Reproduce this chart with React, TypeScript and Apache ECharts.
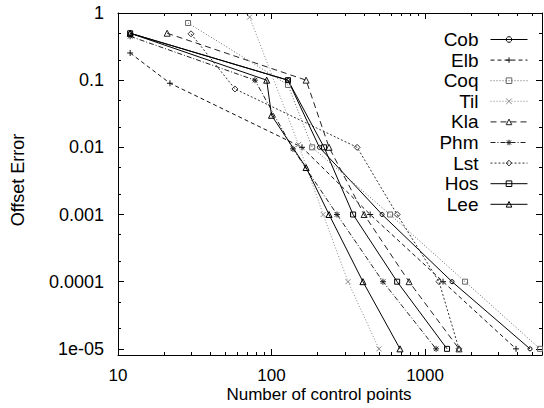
import React, { useEffect, useRef } from 'react';
import * as echarts from 'echarts';

// ---- data ----
const seriesNames = ['Cob', 'Elb', 'Coq', 'Til', 'Kla', 'Phm', 'Lst', 'Hos', 'Lee'];

const cobX = [12, 128, 205, 525, 1499, 4830];
const cobY = [0.5, 0.1, 0.01, 0.001, 0.0001, 0.00001];
const elbX = [12, 21.8, 158, 439, 1310, 3916];
const elbY = [0.254, 0.09, 0.01, 0.001, 0.0001, 0.00001];
const coqX = [28.6, 128, 184, 592, 1823, 5610];
const coqY = [0.71, 0.085, 0.01, 0.001, 0.0001, 0.00001];
const tilX = [72, 150, 217, 315, 501];
const tilY = [0.87, 0.011, 0.001, 0.0001, 0.00001];
const klaX = [20.9, 168, 237, 401, 787, 1664];
const klaY = [0.5, 0.1, 0.01, 0.001, 0.0001, 0.00001];
const phmX = [12, 78, 138, 267, 532, 1180];
const phmY = [0.45, 0.1, 0.0095, 0.001, 0.0001, 0.00001];
const lstX = [29.9, 57.8, 361, 658, 1233, 1664];
const lstY = [0.49, 0.074, 0.01, 0.001, 0.0001, 0.00001];
const hosX = [12, 128, 220, 340, 658, 1391];
const hosY = [0.5, 0.1, 0.01, 0.001, 0.0001, 0.00001];
const leeX = [12, 93, 100, 168, 237, 394, 687];
const leeY = [0.5, 0.1, 0.03, 0.005, 0.001, 0.0001, 0.00001];

const xTicks = [10, 100, 1000];
const xTickLabels = ['10', '100', '1000'];
const xMinorTicks = [20, 30, 40, 50, 60, 70, 80, 90, 200, 300, 400, 500, 600, 700, 800, 900, 2000, 3000, 4000, 5000];
const yTicks = [1, 0.1, 0.01, 0.001, 0.0001, 0.00001];
const yTickLabels = ['1', '0.1', '0.01', '0.001', '0.0001', '1e-05'];
const yMinorTicks = [0.5, 0.2, 0.05, 0.02, 0.005, 0.002, 0.0005, 0.0002, 0.00005, 0.00002];

const xMin = 10;
const xMax = 5780;
const yMin = 0.0000081;
const yMax = 1;

const FONT = "'Liberation Sans', Arial, Helvetica, sans-serif";

const P_PLUS = 'path://M0,4L8,4M4,0L4,8';
const P_CROSS = 'path://M0,0L8,8M8,0L0,8';
const P_STAR = 'path://M4,0L4,8M0,4L8,4M1,1L7,7M7,1L1,7';

const styles: Record<string, any> = {
  Cob: { x: cobX, y: cobY, symbol: 'circle', size: 4, dash: 'solid', color: '#000' },
  Elb: { x: elbX, y: elbY, symbol: P_PLUS, size: 6, dash: [4, 3], color: '#111' },
  Coq: { x: coqX, y: coqY, symbol: 'rect', size: 5, dash: [1, 2], color: '#666' },
  Til: { x: tilX, y: tilY, symbol: P_CROSS, size: 5, dash: [1, 2], color: '#888' },
  Kla: { x: klaX, y: klaY, symbol: 'triangle', size: 6, dash: [6, 4], color: '#222' },
  Phm: { x: phmX, y: phmY, symbol: P_STAR, size: 6, dash: [5, 2, 1, 2], color: '#222' },
  Lst: { x: lstX, y: lstY, symbol: 'diamond', size: 6, dash: [2, 2], color: '#333' },
  Hos: { x: hosX, y: hosY, symbol: 'rect', size: 5, dash: 'solid', color: '#000' },
  Lee: { x: leeX, y: leeY, symbol: 'triangle', size: 6, dash: 'solid', color: '#000' },
};

function labelFor(v: number, ticks: number[], labels: string[]) {
  const i = ticks.findIndex((t) => Math.abs(Math.log10(t) - Math.log10(v)) < 1e-6);
  return i >= 0 ? labels[i] : '';
}

export default function App() {
  const ref = useRef<HTMLDivElement>(null);

  useEffect(() => {
    if (!ref.current) return;
    const chart = echarts.init(ref.current, undefined, { renderer: 'svg' });

    const axisLine = { show: true, onZero: false, lineStyle: { color: '#000', width: 1 } };
    const xBase = { type: 'log', logBase: 10, min: xMin, max: xMax, splitLine: { show: false } };
    const yBase = { type: 'log', logBase: 10, min: yMin, max: yMax, splitLine: { show: false } };
    const majorTick = (vals: number[]) => ({
      show: true, inside: true, length: 6, customValues: vals, lineStyle: { color: '#000', width: 1 },
    });
    const minorTick = (vals: number[]) => ({
      show: true, inside: true, length: 3, customValues: vals, lineStyle: { color: '#000', width: 1 },
    });

    const series = seriesNames.map((name) => {
      const s = styles[name];
      return {
        name,
        type: 'line',
        xAxisIndex: 0,
        yAxisIndex: 0,
        data: s.x.map((xv: number, i: number) => [xv, s.y[i]]),
        symbol: s.symbol,
        symbolSize: s.size,
        showAllSymbol: true,
        lineStyle: { color: s.color, width: 1, type: s.dash },
        itemStyle: { color: 'rgba(255,255,255,0)', borderColor: s.color, borderWidth: 1 },
        emphasis: { disabled: true },
        z: 2,
      };
    });

    chart.setOption({
      animation: false,
      backgroundColor: '#fff',
      grid: { left: 118, right: 2, top: 13, bottom: 53, outerBoundsMode: 'none', containLabel: false },
      legend: {
        orient: 'vertical',
        right: 11,
        top: 25,
        align: 'right',
        itemWidth: 37,
        itemHeight: 7,
        itemGap: 1.6,
        selectedMode: false,
        lineStyle: { width: 1 },
        itemStyle: { borderWidth: 1 },
        textStyle: { fontSize: 19, fontFamily: FONT, color: '#000', lineHeight: 18, padding: [0, 7, 0, 0] },
        data: seriesNames,
      },
      xAxis: [
        {
          ...xBase,
          position: 'bottom',
          axisLine,
          axisTick: majorTick(xTicks),
          axisLabel: {
            customValues: xTicks,
            formatter: (v: number) => labelFor(v, xTicks, xTickLabels),
            fontSize: 17, lineHeight: 17, fontFamily: FONT, color: '#000', margin: 12,
          },
          name: 'Number of control points',
          nameLocation: 'middle',
          nameGap: 31,
          nameMoveOverlap: false,
          nameTextStyle: { fontSize: 17, lineHeight: 17, fontFamily: FONT, color: '#000', padding: [0, 22, 0, 0] },
        },
        { ...xBase, position: 'top', axisLine, axisTick: majorTick(xTicks), axisLabel: { show: false } },
        { ...xBase, position: 'bottom', axisLine: { show: false }, axisTick: minorTick(xMinorTicks), axisLabel: { show: false } },
        { ...xBase, position: 'top', axisLine: { show: false }, axisTick: minorTick(xMinorTicks), axisLabel: { show: false } },
      ],
      yAxis: [
        {
          ...yBase,
          position: 'left',
          axisLine,
          axisTick: majorTick(yTicks),
          axisLabel: {
            customValues: yTicks,
            formatter: (v: number) => labelFor(v, yTicks, yTickLabels),
            fontSize: 18, fontFamily: FONT, color: '#000', margin: 14,
          },
          name: 'Offset Error',
          nameLocation: 'middle',
          nameGap: 91,
          nameMoveOverlap: false,
          nameTextStyle: { fontSize: 18, fontFamily: FONT, color: '#000', padding: [0, 0, 0, 8] },
        },
        { ...yBase, position: 'right', axisLine, axisTick: majorTick(yTicks), axisLabel: { show: false } },
        { ...yBase, position: 'left', axisLine: { show: false }, axisTick: minorTick(yMinorTicks), axisLabel: { show: false } },
        { ...yBase, position: 'right', axisLine: { show: false }, axisTick: minorTick(yMinorTicks), axisLabel: { show: false } },
      ],
      series,
    });

    return () => chart.dispose();
  }, []);

  return (
    <div
      ref={ref}
      style={{ position: 'fixed', left: 0, top: 0, width: 544, height: 408, background: '#fff' }}
    />
  );
}
